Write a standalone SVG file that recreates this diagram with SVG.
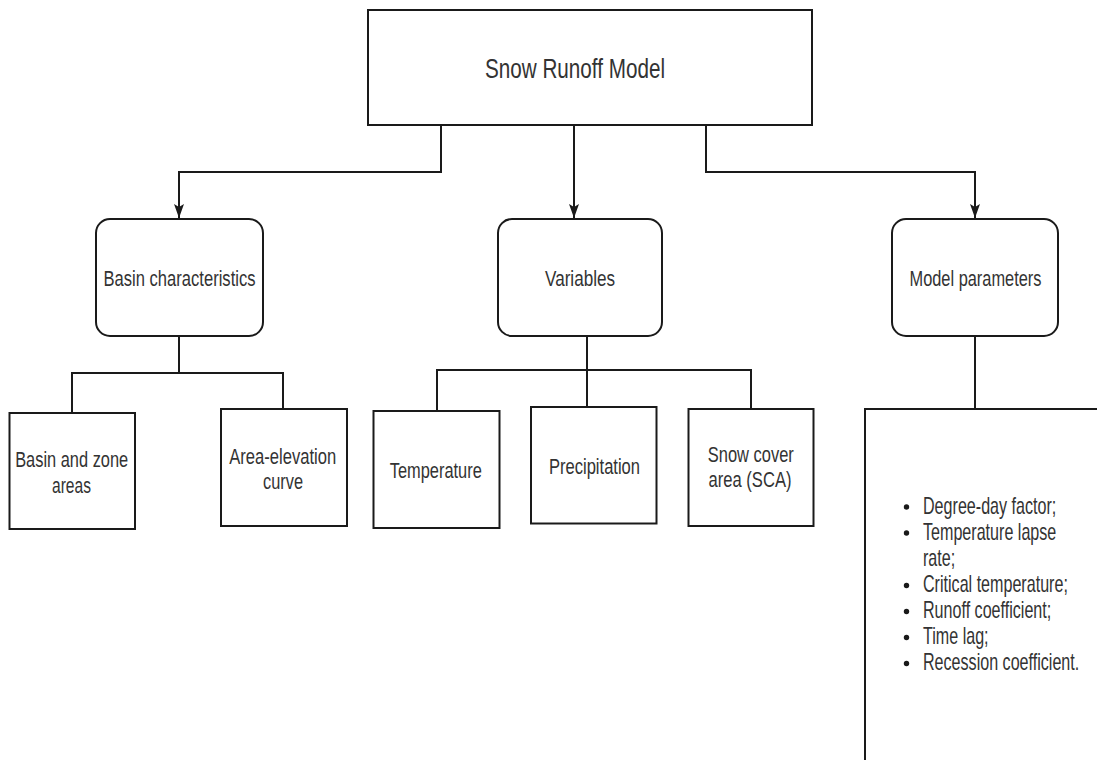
<svg xmlns="http://www.w3.org/2000/svg" width="1097" height="760" viewBox="0 0 1097 760">
  <style>
    .box { fill: #ffffff; stroke: #1a1a1a; stroke-width: 2; }
    .wire { fill: none; stroke: #1a1a1a; stroke-width: 2; }
    .lbl { font-family: "Liberation Sans", Arial, sans-serif; fill: #333333; text-anchor: middle; }
    .item { font-family: "Liberation Sans", Arial, sans-serif; fill: #333333; font-size: 23px; }
  </style>
  <defs>
    <marker id="arrow" viewBox="0 0 14 10" refX="14" refY="5" markerWidth="14" markerHeight="10" markerUnits="userSpaceOnUse" orient="auto">
      <path d="M0,0 L14,5 L0,10 L3,5 Z" fill="#1a1a1a"/>
    </marker>
  </defs>
  <rect width="1097" height="760" fill="#ffffff"/>

  <!-- connectors -->
  <g id="connectors">
    <path class="wire" d="M441,125 V172 H179 V218" marker-end="url(#arrow)"/>
    <path class="wire" d="M574,125 V218" marker-end="url(#arrow)"/>
    <path class="wire" d="M706,125 V172 H975 V218" marker-end="url(#arrow)"/>
    <path class="wire" d="M179,336 V373 H72 V413"/>
    <path class="wire" d="M179,373 H283 V409"/>
    <path class="wire" d="M587,336 V370 H437 V411"/>
    <path class="wire" d="M587,370 V407"/>
    <path class="wire" d="M587,370 H751 V409"/>
    <path class="wire" d="M975,336 V409"/>
  </g>

  <!-- root -->
  <g id="root">
    <rect class="box" x="368" y="10" width="444" height="115"/>
    <text class="lbl" x="575" y="78" font-size="28" textLength="180" lengthAdjust="spacingAndGlyphs">Snow Runoff Model</text>
  </g>

  <!-- second level -->
  <g id="basin">
    <rect class="box" x="96" y="219" width="167" height="117" rx="14"/>
    <text class="lbl" x="179.5" y="286" font-size="22" textLength="152" lengthAdjust="spacingAndGlyphs">Basin characteristics</text>
  </g>
  <g id="variables">
    <rect class="box" x="498" y="219" width="164" height="117" rx="14"/>
    <text class="lbl" x="580" y="286" font-size="22" textLength="70" lengthAdjust="spacingAndGlyphs">Variables</text>
  </g>
  <g id="params">
    <rect class="box" x="892" y="219" width="166" height="117" rx="14"/>
    <text class="lbl" x="975.5" y="286" font-size="22" textLength="132" lengthAdjust="spacingAndGlyphs">Model parameters</text>
  </g>

  <!-- basin leaves -->
  <g id="zones">
    <rect class="box" x="9.5" y="413" width="125.5" height="116"/>
    <text class="lbl" x="71.7" y="467" font-size="22" textLength="113" lengthAdjust="spacingAndGlyphs">Basin and zone</text>
    <text class="lbl" x="71.5" y="493" font-size="22" textLength="39" lengthAdjust="spacingAndGlyphs">areas</text>
  </g>
  <g id="curve">
    <rect class="box" x="221" y="409" width="126" height="117"/>
    <text class="lbl" x="282.7" y="464" font-size="22" textLength="107" lengthAdjust="spacingAndGlyphs">Area-elevation</text>
    <text class="lbl" x="283" y="489" font-size="22" textLength="40" lengthAdjust="spacingAndGlyphs">curve</text>
  </g>

  <!-- variable leaves -->
  <g id="temperature">
    <rect class="box" x="373.5" y="411" width="126" height="117"/>
    <text class="lbl" x="435.8" y="478" font-size="22" textLength="92" lengthAdjust="spacingAndGlyphs">Temperature</text>
  </g>
  <g id="precipitation">
    <rect class="box" x="531" y="407" width="125.5" height="116.5"/>
    <text class="lbl" x="594.5" y="474" font-size="22" textLength="91" lengthAdjust="spacingAndGlyphs">Precipitation</text>
  </g>
  <g id="sca">
    <rect class="box" x="688.5" y="409" width="125" height="117"/>
    <text class="lbl" x="750.8" y="462" font-size="22" textLength="86" lengthAdjust="spacingAndGlyphs">Snow cover</text>
    <text class="lbl" x="750" y="487" font-size="22" textLength="83" lengthAdjust="spacingAndGlyphs">area (SCA)</text>
  </g>

  <!-- parameter list (box runs past the right and bottom edges) -->
  <g id="param-list">
    <rect class="box" x="865" y="409" width="260" height="380"/>
    <g fill="#1a1a1a">
      <circle cx="906.5" cy="507" r="2.7"/>
      <circle cx="906.5" cy="533" r="2.7"/>
      <circle cx="906.5" cy="585.5" r="2.7"/>
      <circle cx="906.5" cy="611.5" r="2.7"/>
      <circle cx="906.5" cy="637.5" r="2.7"/>
      <circle cx="906.5" cy="663.5" r="2.7"/>
    </g>
    <g transform="translate(923,0) scale(0.70,1)">
      <text class="item" x="0" y="514">Degree-day factor;</text>
      <text class="item" x="0" y="540">Temperature lapse</text>
      <text class="item" x="0" y="566.5">rate;</text>
      <text class="item" x="0" y="592.5">Critical temperature;</text>
      <text class="item" x="0" y="618.5">Runoff coefficient;</text>
      <text class="item" x="0" y="644.5">Time lag;</text>
      <text class="item" x="0" y="670.5">Recession coefficient.</text>
    </g>
  </g>
</svg>
